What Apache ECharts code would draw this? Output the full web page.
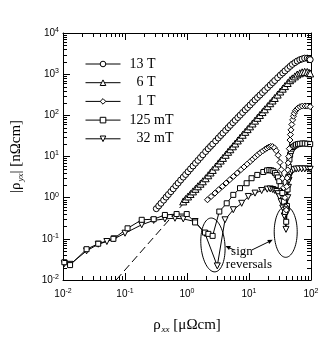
<!DOCTYPE html>
<html>
<head>
<meta charset="utf-8">
<script src="https://cdn.jsdelivr.net/npm/echarts@6/dist/echarts.min.js"></script>
<style>
  html, body { margin: 0; padding: 0; background: #fff; }
  #chart { width: 327px; height: 363px; }
</style>
</head>
<body>
<div id="chart"></div>
<script>
// legend names
const seriesNames = ['13 T', '6 T', '1 T', '125 mT', '32 mT']
const legendLabels = ['13 T', '\u20076 T', '\u20071 T', '125 mT', '\u200732 mT']

// |rho_yx| [nOhm cm] against rho_xx [uOhm cm]
const t13 = [[0.32, 0.54], [0.35, 0.63], [0.38, 0.73], [0.42, 0.87], [0.46, 1.03], [0.5, 1.19], [0.55, 1.40], [0.6, 1.64],
  [0.66, 1.95], [0.72, 2.26], [0.79, 2.67], [0.87, 3.15], [0.95, 3.66], [1.04, 4.28], [1.14, 5.01], [1.25, 5.87],
  [1.37, 6.89], [1.5, 8.04], [1.65, 9.44], [1.8, 11.0], [2.0, 13.2], [2.2, 15.4], [2.4, 17.7], [2.6, 20.1],
  [2.9, 23.9], [3.2, 28.1], [3.5, 32.4], [3.8, 37.0], [4.2, 43.4], [4.6, 50.2], [5.0, 57.3], [5.5, 66.4],
  [6.0, 76.0], [6.6, 88.3], [7.2, 101], [7.9, 117], [8.7, 136], [9.5, 155], [10.4, 178], [11.4, 206],
  [12.5, 237], [13.7, 272], [15, 310], [16.5, 357], [18, 406], [20, 474], [22, 546], [24, 621], [26, 700],
  [29, 820], [32, 948], [35, 1070], [38, 1200], [42, 1370], [46, 1550], [50, 1730], [55, 1910], [60, 2080],
  [66, 2240], [72, 2340], [79, 2450], [87, 2450], [93, 2350], [97, 2250]]

const t6 = [[0.87, 0.81], [0.95, 0.93], [1.04, 1.07], [1.14, 1.23], [1.25, 1.42], [1.37, 1.64], [1.5, 1.89], [1.65, 2.18],
  [1.8, 2.50], [2.0, 2.96], [2.2, 3.50], [2.4, 4.09], [2.6, 4.72], [2.9, 5.71], [3.2, 6.81], [3.5, 7.98], [3.8, 9.25],
  [4.2, 11.0], [4.6, 13.0], [5.0, 15.0], [5.5, 17.7], [6.0, 20.7], [6.6, 24.5], [7.2, 28.6], [7.9, 33.7], [8.7, 39.7],
  [9.5, 46.2], [10.4, 54.0], [11.4, 63.4], [12.5, 74.3], [13.7, 87.1], [15, 102], [16.5, 120], [18, 140], [20, 167],
  [22, 197], [24, 229], [26, 264], [29, 319], [32, 379], [35, 444], [38, 513], [42, 610], [46, 714], [50, 789],
  [55, 883], [60, 982], [66, 1050], [72, 1110], [79, 1140], [87, 1130], [93, 1080], [97, 1040]]

const t1 = [[2.14, 0.89], [2.45, 1.07], [2.82, 1.29], [3.24, 1.56], [3.72, 1.88], [4.27, 2.26], [4.9, 2.73], [5.62, 3.29],
  [6.46, 3.96], [7.41, 4.78], [8.32, 5.58], [9.33, 6.52], [10.5, 7.62], [11.5, 8.63], [12.6, 9.77], [13.8, 11.0],
  [15.1, 12.3], [16.6, 13.6], [18.2, 15.0], [19.5, 16.0], [20.9, 17.0], [22.4, 17.6], [24.0, 17.4], [25.7, 16.2],
  [27.5, 13.8], [29.5, 10.7], [31.6, 7.2], [33.1, 4.8], [34.7, 2.95], [36.3, 1.74], [38.0, 1.0], [39.4, 0.6],
  [40.0, 0.5], [40.6, 1.86], [41.3, 3.0], [42.1, 4.73], [42.9, 7.0], [43.7, 10], [44.7, 15.5], [45.8, 25.1],
  [46.6, 34], [47.5, 44.3], [49, 60], [50.6, 77.6], [52.1, 95], [53.8, 112], [56.2, 129], [58.7, 140],
  [61.7, 151], [66.5, 162], [72.4, 168], [80, 169], [87, 168], [97, 162]]

const mT125 = [[0.0105, 0.027], [0.013, 0.023], [0.024, 0.056], [0.037, 0.076], [0.065, 0.10], [0.11, 0.18],
  [0.186, 0.29], [0.29, 0.30], [0.44, 0.38], [0.68, 0.40], [0.99, 0.40], [1.35, 0.25], [1.95, 0.142], [2.21, 0.132],
  [2.59, 0.118], [3.32, 0.46], [4.37, 0.73], [5.58, 1.17], [7.16, 1.70], [9.16, 2.24], [11.0, 2.97], [13.6, 3.57],
  [17.0, 4.2], [19.5, 4.6], [21.3, 4.7], [23, 4.6], [24.7, 4.4], [26.3, 4.0], [27.9, 3.57], [29.3, 3.1],
  [30.8, 2.5], [32.5, 1.9], [34.5, 1.3], [36.5, 0.8], [38.2, 0.45], [39.8, 0.26], [40.9, 0.63], [41.9, 1.58],
  [42.9, 3.16], [43.9, 5.6], [44.9, 8.5], [46, 11], [47.4, 13.5], [49, 15.5], [51.3, 17], [54.3, 18.2],
  [57.5, 19.3], [61.7, 20], [66, 20.4], [72.4, 20.7], [79.4, 20.7], [87, 20.4], [97, 20]]

const mT32 = [[0.0105, 0.025], [0.013, 0.024], [0.024, 0.051], [0.037, 0.074], [0.051, 0.086], [0.067, 0.10],
  [0.10, 0.137], [0.186, 0.22], [0.29, 0.28], [0.44, 0.305], [0.64, 0.316], [0.87, 0.305], [1.35, 0.263],
  [1.95, 0.135], [3.08, 0.022], [4.1, 0.29], [5.58, 0.51], [7.62, 0.73], [9.75, 1.07], [12.5, 1.29], [16.0, 1.49],
  [19.7, 1.61], [22, 1.63], [24.1, 1.58], [26, 1.5], [27.9, 1.41], [29.5, 1.25], [31, 1.05], [33, 0.8], [35, 0.56],
  [37, 0.36], [39.5, 0.17], [41.2, 0.45], [42.2, 1.0], [43.2, 1.78], [44.2, 2.63], [45.4, 3.39], [46.8, 3.98],
  [49, 4.47], [52.5, 4.79], [57.5, 4.95], [63, 5.0], [70.8, 5.0], [79.4, 5.0], [89, 4.95], [97, 4.9]]

// dashed guide line
const fitLine = [[0.072, 0.01], [1.0, 0.9]]

// axis ranges and minor tick steps
const xRange = [0.01, 100]
const yRange = [0.01, 10000]
const xDecades = [0.01, 0.1, 1, 10]
const yDecades = [0.01, 0.1, 1, 10, 100, 1000]
const minorSteps = [2, 3, 4, 5, 6, 7, 8, 9]

// annotation: ellipses round the sign reversals, [center x, center y] in data units
const ellipseCenters = [[2.62, 0.071], [39.1, 0.148]]
const noteText = ['sign', 'reversals']

const SERIF = '"Liberation Serif", "DejaVu Serif", serif'
const SANS = '"Liberation Sans", Arial, sans-serif'

const chart = echarts.init(document.getElementById('chart'))

const minorX = []
xDecades.forEach(d => minorSteps.forEach(s => minorX.push(d * s)))
const minorY = []
yDecades.forEach(d => minorSteps.forEach(s => minorY.push(d * s)))

function dataSeries (name, data, symbol, size, rotate) {
  return {
    name: name,
    type: 'line',
    data: data,
    symbol: symbol,
    symbolSize: size,
    symbolRotate: rotate,
    showAllSymbol: true,
    lineStyle: { color: '#000', width: 1 },
    itemStyle: { color: '#fff', borderColor: '#000', borderWidth: 1 },
    emphasis: { disabled: true },
    z: 3
  }
}

function minorTicks (vals, dim) {
  return {
    type: 'custom',
    silent: true,
    clip: false,
    z: 5,
    data: vals.map(v => dim === 'x' ? [v, 1] : [1, v]),
    renderItem: function (params, api) {
      const cs = params.coordSys
      const p = api.coord([api.value(0), api.value(1)])
      const L = 4
      const st = { stroke: '#000', lineWidth: 1 }
      if (dim === 'x') {
        const x = Math.round(p[0]) + 0.5
        const b = cs.y + cs.height
        return { type: 'group', children: [
          { type: 'line', shape: { x1: x, y1: b, x2: x, y2: b - L }, style: st },
          { type: 'line', shape: { x1: x, y1: cs.y, x2: x, y2: cs.y + L }, style: st }
        ] }
      }
      const y = Math.round(p[1]) + 0.5
      const r = cs.x + cs.width
      return { type: 'group', children: [
        { type: 'line', shape: { x1: cs.x, y1: y, x2: cs.x + L, y2: y }, style: st },
        { type: 'line', shape: { x1: r, y1: y, x2: r - L, y2: y }, style: st }
      ] }
    }
  }
}

const powLabel = v => '{b|10}{s|' + Math.round(Math.log10(v)) + '}'
const labelRich = {
  b: { fontFamily: SANS, fontSize: 10, color: '#000' },
  s: { fontFamily: SANS, fontSize: 7, color: '#000', verticalAlign: 'top', padding: [0, 0, 6, 0] }
}

function logAxis (range, pos, labels, split) {
  return {
    type: 'log',
    logBase: 10,
    min: range[0],
    max: range[1],
    splitNumber: split,
    position: pos,
    axisLine: { show: true, lineStyle: { color: '#000', width: 1 } },
    axisTick: { show: true, inside: true, length: 7, lineStyle: { color: '#000' } },
    splitLine: { show: false },
    minorTick: { show: false },
    axisLabel: labels
      ? { show: true, formatter: powLabel, rich: labelRich, margin: pos === 'bottom' ? 8 : 4 }
      : { show: false }
  }
}

const xMain = logAxis(xRange, 'bottom', true, 4)
xMain.name = '{r|\u03c1}{sub|xx}{r| [\u03bc\u03a9cm]}'
xMain.nameLocation = 'middle'
xMain.nameGap = 37
xMain.nameTextStyle = { rich: {
  r: { fontFamily: SERIF, fontSize: 15, color: '#000' },
  sub: { fontFamily: SERIF, fontSize: 9, fontStyle: 'italic', color: '#000', padding: [8, 0, 0, 1] }
} }

const yMain = logAxis(yRange, 'left', true, 6)
yMain.name = '{r||\u03c1}{sub|yx}{r|| [n\u03a9cm]}'
yMain.nameLocation = 'middle'
yMain.nameGap = 38
yMain.nameTextStyle = { rich: {
  r: { fontFamily: SERIF, fontSize: 15, color: '#000' },
  sub: { fontFamily: SERIF, fontSize: 9, fontStyle: 'italic', color: '#000', padding: [8, 0, 0, 1] }
} }

const option = {
  animation: false,
  backgroundColor: '#fff',
  grid: { left: 63, right: 16, top: 33, bottom: 83, containLabel: false },
  legend: {
    data: seriesNames,
    orient: 'vertical',
    left: 85,
    top: 57,
    itemWidth: 35,
    itemHeight: 7,
    itemGap: 4.7,
    padding: 0,
    selectedMode: false,
    formatter: name => legendLabels[seriesNames.indexOf(name)],
    lineStyle: { color: '#000', width: 1 },
    itemStyle: { color: '#fff', borderColor: '#000', borderWidth: 1 },
    textStyle: { fontFamily: SERIF, fontSize: 14, color: '#000', lineHeight: 14, padding: [0, 0, 0, 4] }
  },
  xAxis: [xMain, logAxis(xRange, 'top', false, 4)],
  yAxis: [yMain, logAxis(yRange, 'right', false, 6)],
  series: [
    {
      name: 'fit',
      type: 'line',
      data: fitLine,
      symbol: 'none',
      lineStyle: { color: '#000', width: 1, type: [8, 4] },
      emphasis: { disabled: true },
      z: 2
    },
    dataSeries('32 mT', mT32, 'triangle', 6, 180),
    dataSeries('125 mT', mT125, 'rect', 5, 0),
    dataSeries('1 T', t1, 'diamond', 6, 0),
    dataSeries('6 T', t6, 'triangle', 7, 0),
    dataSeries('13 T', t13, 'circle', 6, 0),
    minorTicks(minorX, 'x'),
    minorTicks(minorY, 'y')
  ]
}

chart.setOption(option)

// annotation: ellipses, labels and arrows, anchored to data points
const px = p => chart.convertToPixel({ xAxisIndex: 0, yAxisIndex: 0 }, p)
function ellipsePoints (c, rx, ry, tilt) {
  const pts = []
  const ct = Math.cos(tilt)
  const sn = Math.sin(tilt)
  for (let i = 0; i <= 72; i++) {
    const a = i / 72 * Math.PI * 2
    const ex = rx * Math.cos(a)
    const ey = ry * Math.sin(a)
    pts.push([c[0] + ex * ct - ey * sn, c[1] + ex * sn + ey * ct])
  }
  return pts
}
function arrow (from, to) {
  const dx = to[0] - from[0]
  const dy = to[1] - from[1]
  const len = Math.sqrt(dx * dx + dy * dy)
  const ux = dx / len
  const uy = dy / len
  const h = 5
  const w = 2.2
  const base = [to[0] - ux * h, to[1] - uy * h]
  return [
    { type: 'line', shape: { x1: from[0], y1: from[1], x2: base[0], y2: base[1] }, style: { stroke: '#000', lineWidth: 1 } },
    { type: 'polygon', shape: { points: [to, [base[0] - uy * w, base[1] + ux * w], [base[0] + uy * w, base[1] - ux * w]] }, style: { fill: '#000' } }
  ]
}

const c1 = px(ellipseCenters[0])
const c2 = px(ellipseCenters[1])
const graphics = [
  { type: 'polyline', shape: { points: ellipsePoints(c1, 12, 27, -0.08) }, style: { stroke: '#000', lineWidth: 1, fill: null }, z: 10 },
  { type: 'polyline', shape: { points: ellipsePoints(c2, 11.5, 25.5, 0) }, style: { stroke: '#000', lineWidth: 1, fill: null }, z: 10 },
  { type: 'text', x: c1[0] + 29, y: c1[1] + 7, style: { text: noteText[0], font: '13px ' + SERIF, fill: '#000', textAlign: 'center', textVerticalAlign: 'middle' }, z: 10 },
  { type: 'text', x: c1[0] + 36, y: c1[1] + 20, style: { text: noteText[1], font: '13px ' + SERIF, fill: '#000', textAlign: 'center', textVerticalAlign: 'middle' }, z: 10 }
]
arrow([c1[0] + 21, c1[1] + 5], [c1[0] + 12.5, c1[1] + 1]).forEach(g => { g.z = 10; graphics.push(g) })
arrow([c1[0] + 39, c1[1] + 5], [c2[0] - 13, c2[1] + 8]).forEach(g => { g.z = 10; graphics.push(g) })
chart.setOption({ graphic: graphics })
</script>
</body>
</html>
